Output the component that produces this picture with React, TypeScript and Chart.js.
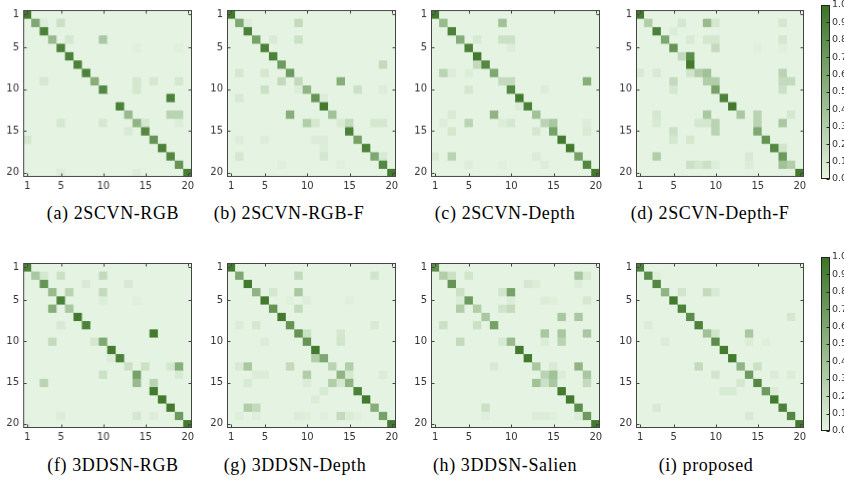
import React, { useEffect, useRef } from 'react';
import { Chart, registerables } from 'chart.js';
Chart.register(...registerables);

// ---------- data ----------
const CLASS_LABELS = ['1','2','3','4','5','6','7','8','9','10','11','12','13','14','15','16','17','18','19','20'];
const AXIS_TICKS = [1, 5, 10, 15, 20];
const COLORBAR_TICKS = [0, 0.1, 0.2, 0.3, 0.4, 0.5, 0.6, 0.7, 0.8, 0.9, 1.0];

// (a) 2SCVN-RGB
const DIAG_A = [0.95,0.6,0.9,0.45,0.9,0.9,0.9,0.9,0.55,0.85,0,0.9,0.45,0.5,0.85,0.75,0.9,0.85,0.75,0.92];
const OFF_A: [number, number, number][] = [[2,3,0.05],[2,5,0.15],[4,6,0.1],[4,10,0.35],[5,14,0.03],[5,19,0.03],[9,3,0.1],[9,14,0.1],[9,16,0.1],[9,19,0.1],[10,14,0.1],[11,18,0.9],[13,18,0.25],[13,19,0.25],[14,5,0.1],[14,10,0.1],[14,15,0.1],[14,19,0.05],[15,13,0.08],[16,1,0.1],[20,5,0.05],[20,14,0.05]];
// (b) 2SCVN-RGB-F
const DIAG_B = [0.95,0.6,0.9,0.65,0.9,0.9,0.7,0.7,0.2,0.5,0.75,0.95,0.4,0.08,0.9,0.65,0.9,0.6,0.85,0.95];
const OFF_B: [number, number, number][] = [[2,3,0.05],[2,9,0.2],[4,6,0.07],[4,9,0.15],[7,19,0.2],[8,2,0.1],[8,5,0.1],[9,7,0.2],[9,14,0.55],[10,5,0.15],[10,9,0.05],[10,16,0.15],[10,19,0.05],[11,2,0.08],[11,12,0.05],[13,8,0.55],[14,10,0.3],[14,11,0.1],[14,15,0.2],[14,18,0.1],[14,19,0.1],[16,2,0.05],[16,5,0.05],[16,11,0.06],[16,12,0.06],[17,12,0.05],[18,2,0.1],[18,12,0.1],[18,19,0.08],[19,7,0.03],[19,14,0.03]];
// (c) 2SCVN-Depth
const DIAG_C = [0.95,0.45,0.9,0.55,0.9,0.95,0.85,0.6,0.2,0.85,0.95,0.9,0.4,0.25,0.65,0.95,0.95,0.65,0.85,0.95];
const OFF_C: [number, number, number][] = [[2,9,0.4],[4,6,0.08],[4,9,0.15],[4,10,0.15],[5,10,0.05],[7,6,0.2],[8,2,0.25],[8,3,0.05],[8,5,0.05],[9,10,0.2],[9,19,0.55],[10,5,0.1],[10,14,0.05],[12,11,0.06],[13,3,0.08],[13,8,0.5],[14,2,0.05],[14,5,0.25],[14,9,0.05],[14,10,0.1],[14,15,0.35],[14,19,0.05],[15,3,0.1],[15,13,0.1],[15,19,0.08],[18,1,0.08],[18,3,0.25],[18,13,0.06],[19,5,0.05],[19,9,0.03],[19,14,0.05]];
// (d) 2SCVN-Depth-F
const DIAG_D = [0.95,0.3,0.9,0.6,0.75,0.2,0.95,0.3,0.3,0.65,0.9,0.95,0.35,0,0.6,0.75,0.85,0.7,0.3,0.95];
const OFF_D: [number, number, number][] = [[2,6,0.1],[2,9,0.45],[2,10,0.1],[2,18,0.1],[3,5,0.05],[4,7,0.08],[4,9,0.1],[4,10,0.1],[4,18,0.1],[5,10,0.2],[5,15,0.03],[5,18,0.03],[6,7,0.8],[8,1,0.08],[8,3,0.08],[8,7,0.12],[8,9,0.4],[8,18,0.25],[9,5,0.2],[9,10,0.3],[9,18,0.2],[9,19,0.2],[10,5,0.1],[10,18,0.15],[13,3,0.1],[13,9,0.35],[13,15,0.25],[13,19,0.1],[14,3,0.08],[14,8,0.1],[14,9,0.1],[14,10,0.25],[14,15,0.25],[14,18,0.35],[15,5,0.15],[15,10,0.25],[16,5,0.1],[16,7,0.1],[17,18,0.12],[18,3,0.3],[18,14,0.08],[19,7,0.15],[19,8,0.1],[19,9,0.15],[19,10,0.05],[19,14,0.06],[19,18,0.4]];
// (f) 3DDSN-RGB
const DIAG_F = [0.9,0.35,0.75,0.45,0.9,0.35,0.95,0.9,0,0.6,0.95,0.9,0.15,0.65,0,0.95,0.95,0.95,0.7,0.95];
const OFF_F: [number, number, number][] = [[2,3,0.1],[2,5,0.15],[2,10,0.2],[3,8,0.08],[3,13,0.08],[4,6,0.25],[4,10,0.2],[5,10,0.05],[5,14,0.03],[6,4,0.55],[8,5,0.08],[9,16,0.95],[10,4,0.2],[10,9,0.1],[12,11,0.06],[13,15,0.15],[13,18,0.1],[13,19,0.55],[14,10,0.15],[14,19,0.08],[15,3,0.25],[15,14,0.45],[15,16,0.25],[19,5,0.06],[19,14,0.1],[19,16,0.05],[20,1,0.03]];
// (g) 3DDSN-Depth
const DIAG_G = [0.95,0.6,0.95,0.5,0.95,0.75,0.95,0.75,0.75,0.75,0.95,0.6,0.25,0.5,0.5,0.9,0.95,0.55,0.65,0.95];
const OFF_G: [number, number, number][] = [[2,9,0.2],[2,18,0.12],[4,6,0.1],[4,9,0.35],[5,8,0.03],[5,10,0.05],[5,15,0.04],[6,9,0.2],[8,2,0.06],[8,4,0.1],[8,18,0.08],[9,10,0.15],[9,14,0.1],[10,5,0.06],[10,14,0.12],[12,11,0.3],[13,2,0.08],[13,3,0.35],[13,8,0.2],[13,15,0.3],[14,4,0.06],[14,5,0.06],[14,10,0.3],[14,15,0.1],[14,19,0.06],[15,3,0.08],[15,10,0.06],[15,13,0.3],[15,14,0.1],[16,12,0.08],[17,11,0.06],[18,3,0.3],[18,4,0.2],[19,2,0.04],[19,4,0.04],[19,9,0.06],[19,10,0.04],[19,12,0.04],[19,14,0.2],[19,15,0.06],[19,16,0.03]];
// (h) 3DDSN-Salien
const DIAG_H = [0.8,0.3,0.75,0.15,0.7,0.3,0.35,0.65,0,0.45,0.95,0.95,0.35,0.25,0.35,0.95,0.95,0.8,0.7,0.95];
const OFF_H: [number, number, number][] = [[2,3,0.15],[2,5,0.12],[2,18,0.35],[2,19,0.08],[3,12,0.1],[3,13,0.06],[3,18,0.05],[4,9,0.12],[4,10,0.65],[5,4,0.06],[5,10,0.06],[5,14,0.06],[5,15,0.04],[5,19,0.1],[6,4,0.3],[6,9,0.12],[6,10,0.2],[7,16,0.35],[7,18,0.35],[8,2,0.15],[8,6,0.15],[9,14,0.35],[9,16,0.35],[9,19,0.35],[10,4,0.2],[10,9,0.08],[10,14,0.06],[10,16,0.25],[13,8,0.08],[13,15,0.08],[13,18,0.5],[14,15,0.4],[14,16,0.06],[14,19,0.35],[15,13,0.4],[15,14,0.15],[15,19,0.2],[18,7,0.15],[19,7,0.04],[19,13,0.06],[19,14,0.06],[19,15,0.04],[19,18,0.06]];
// (i) proposed
const DIAG_I = [0.9,0.8,0.85,0.5,0.95,0.9,0.8,0.9,0.4,0.8,0.95,0.95,0.5,0.7,0.85,0.7,0.95,0.9,0.85,0.95];
const OFF_I: [number, number, number][] = [[2,3,0.04],[4,6,0.12],[4,9,0.2],[4,10,0.08],[7,19,0.1],[8,2,0.06],[9,10,0.12],[9,14,0.35],[10,4,0.06],[10,14,0.06],[10,16,0.04],[13,8,0.2],[13,15,0.15],[14,10,0.12],[14,17,0.06],[14,19,0.06],[15,13,0.1],[16,11,0.08],[16,12,0.08],[16,17,0.06],[18,3,0.08],[19,14,0.08]];

const CAPTIONS = ['(a) 2SCVN-RGB','(b) 2SCVN-RGB-F','(c) 2SCVN-Depth','(d) 2SCVN-Depth-F','(f) 3DDSN-RGB','(g) 3DDSN-Depth','(h) 3DDSN-Salien','(i) proposed'];

// ---------- styling ----------
const LOW = [229, 244, 226];
const HIGH = [58, 116, 37];
const colorFor = (v: number) => {
  const c = LOW.map((l, i) => Math.round(l + (HIGH[i] - l) * v));
  return `rgb(${c[0]},${c[1]},${c[2]})`;
};
const TICK_FONT = { family: 'DejaVu Sans', size: 10 };
const TEXT_COLOR = '#333';
const FRAME_COLOR = '#444';

function buildMatrix(diag: number[], off: [number, number, number][]) {
  const m = CLASS_LABELS.map((_, r) => CLASS_LABELS.map((__, c) => (r === c ? diag[r] : 0)));
  off.forEach(([r, c, v]) => { m[r - 1][c - 1] = v; });
  return m;
}

const PAD_L = 30, PAD_T = 8, PAD_R = 8, PAD_B = 20;

const framePlugin = {
  id: 'frame',
  beforeDatasetsDraw(chart: any) {
    const { ctx, chartArea: a } = chart;
    ctx.save();
    ctx.fillStyle = colorFor(0);
    ctx.fillRect(a.left, a.top, a.width, a.height);
    ctx.restore();
  },
  afterDraw(chart: any) {
    const { ctx, chartArea: a, scales } = chart;
    const x = scales.x, y = scales.y;
    ctx.save();
    ctx.strokeStyle = FRAME_COLOR;
    ctx.lineWidth = 1;
    const L = Math.round(a.left) + 0.5, T = Math.round(a.top) + 0.5;
    const R = Math.round(a.right) - 0.5, B = Math.round(a.bottom) - 0.5;
    ctx.strokeRect(L, T, R - L, B - T);
    ctx.beginPath();
    AXIS_TICKS.forEach((v) => {
      const px = Math.round(x.getPixelForValue(v - 1)) + 0.5;
      ctx.moveTo(px, B); ctx.lineTo(px, B - 3);
      ctx.moveTo(px, T); ctx.lineTo(px, T + 3);
      const py = Math.round(y.getPixelForValue(v)) + 0.5;
      ctx.moveTo(L, py); ctx.lineTo(L + 3, py);
      ctx.moveTo(R, py); ctx.lineTo(R - 3, py);
    });
    ctx.stroke();
    ctx.restore();
  },
};

type Box = { left: number; top: number; w: number; h: number };

function Matrix({ diag, off, box }: { diag: number[]; off: [number, number, number][]; box: Box }) {
  const ref = useRef<HTMLCanvasElement>(null);
  const W = box.w + PAD_L + PAD_R, H = box.h + PAD_T + PAD_B;
  useEffect(() => {
    const m = buildMatrix(diag, off);
    const chart = new Chart(ref.current!, {
      type: 'bar',
      data: {
        labels: CLASS_LABELS,
        datasets: m.map((row, r) => ({
          data: row.map(() => [r + 0.5, r + 1.5]),
          backgroundColor: row.map((v) => colorFor(v)),
          borderWidth: 0,
          grouped: false,
          categoryPercentage: 1,
          barPercentage: 1,
        })) as any,
      },
      options: {
        animation: false,
        responsive: false,
        maintainAspectRatio: false,
        layout: { padding: { top: PAD_T, right: PAD_R, left: 0, bottom: 0 } },
        plugins: { legend: { display: false }, tooltip: { enabled: false } },
        scales: {
          x: {
            type: 'category',
            grid: { display: false, drawTicks: false },
            border: { display: false },
            ticks: {
              autoSkip: false, maxRotation: 0, minRotation: 0, padding: 3,
              font: TICK_FONT, color: TEXT_COLOR,
              callback: (_v: any, i: number) => (AXIS_TICKS.includes(i + 1) ? CLASS_LABELS[i] : ''),
            },
            afterFit: (s: any) => { s.height = PAD_B; },
          },
          y: {
            type: 'linear', reverse: true, min: 0.5, max: 20.5,
            grid: { display: false, drawTicks: false },
            border: { display: false },
            afterBuildTicks: (s: any) => { s.ticks = AXIS_TICKS.map((v) => ({ value: v })); },
            ticks: { padding: 4, font: TICK_FONT, color: TEXT_COLOR, callback: (v: any) => String(v) },
            afterFit: (s: any) => { s.width = PAD_L; },
          },
        },
      } as any,
      plugins: [framePlugin],
    });
    return () => chart.destroy();
  }, []);
  return (
    <canvas ref={ref} width={W} height={H}
      style={{ position: 'absolute', left: box.left - PAD_L, top: box.top - PAD_T, width: W, height: H }} />
  );
}

function ColorBar({ left, top, bottom }: { left: number; top: number; bottom: number }) {
  const ref = useRef<HTMLCanvasElement>(null);
  const CB_W = 9, LABEL_W = 16, PADV = 8;
  const W = CB_W + LABEL_W, H = bottom - top + 2 * PADV;
  useEffect(() => {
    const chart = new Chart(ref.current!, {
      type: 'bar',
      data: {
        labels: ['cb'],
        datasets: [{
          data: [[0, 1]] as any,
          borderWidth: 0,
          categoryPercentage: 1,
          barPercentage: 1,
          backgroundColor: (c: any) => {
            const a = c.chart.chartArea;
            if (!a) return colorFor(0);
            const g = c.chart.ctx.createLinearGradient(0, a.bottom, 0, a.top);
            g.addColorStop(0, colorFor(0));
            g.addColorStop(1, colorFor(1));
            return g;
          },
        }],
      },
      options: {
        animation: false,
        responsive: false,
        maintainAspectRatio: false,
        layout: { padding: { top: PADV, bottom: PADV, left: 0, right: 0 } },
        plugins: { legend: { display: false }, tooltip: { enabled: false } },
        scales: {
          x: { display: false },
          y: {
            position: 'right', min: 0, max: 1,
            grid: { display: false, drawTicks: false },
            border: { display: false },
            afterBuildTicks: (s: any) => { s.ticks = COLORBAR_TICKS.map((v) => ({ value: v })); },
            ticks: { padding: 2, font: { family: 'DejaVu Sans', size: 9.5 }, color: TEXT_COLOR, callback: (v: any) => Number(v).toFixed(1) },
            afterFit: (s: any) => { s.width = LABEL_W; },
          },
        },
      } as any,
      plugins: [{
        id: 'cbframe',
        afterDraw(ch: any) {
          const { ctx, chartArea: a, scales } = ch;
          ctx.save();
          ctx.strokeStyle = '#222';
          ctx.lineWidth = 1;
          const L = Math.round(a.left) + 0.5, T = Math.round(a.top) + 0.5;
          const R = Math.round(a.right) - 0.5, B = Math.round(a.bottom) - 0.5;
          ctx.strokeRect(L, T, R - L, B - T);
          ctx.beginPath();
          COLORBAR_TICKS.forEach((v) => {
            const py = Math.round(scales.y.getPixelForValue(v)) + 0.5;
            ctx.moveTo(R, py); ctx.lineTo(R - 3, py);
          });
          ctx.stroke();
          ctx.restore();
        },
      }],
    });
    return () => chart.destroy();
  }, []);
  return (
    <canvas ref={ref} width={W} height={H}
      style={{ position: 'absolute', left, top: top - PADV, width: W, height: H }} />
  );
}

const ROW1 = { top: 8, h: 168.5 };
const ROW2 = { top: 260.5, h: 167.5 };
const COLS = [{ left: 23, w: 168.5 }, { left: 227, w: 169 }, { left: 431, w: 169 }, { left: 636, w: 168 }];

function Caption({ text, cx, cy }: { text: string; cx: number; cy: number }) {
  return (
    <div style={{
      position: 'absolute', left: cx - 120, top: cy - 12, width: 240, height: 24, lineHeight: '24px',
      textAlign: 'center', fontFamily: '"Liberation Serif", serif', fontSize: 18, letterSpacing: 0.6,
      color: '#000', whiteSpace: 'nowrap',
    }}>{text}</div>
  );
}

export default function App() {
  const matrices = [
    { diag: DIAG_A, off: OFF_A, col: 0, row: ROW1 },
    { diag: DIAG_B, off: OFF_B, col: 1, row: ROW1 },
    { diag: DIAG_C, off: OFF_C, col: 2, row: ROW1 },
    { diag: DIAG_D, off: OFF_D, col: 3, row: ROW1 },
    { diag: DIAG_F, off: OFF_F, col: 0, row: ROW2 },
    { diag: DIAG_G, off: OFF_G, col: 1, row: ROW2 },
    { diag: DIAG_H, off: OFF_H, col: 2, row: ROW2 },
    { diag: DIAG_I, off: OFF_I, col: 3, row: ROW2 },
  ];
  const captionPos = [
    { cx: 113, cy: 213 }, { cx: 289, cy: 213 }, { cx: 505, cy: 213 }, { cx: 710, cy: 213 },
    { cx: 113, cy: 465 }, { cx: 295, cy: 465 }, { cx: 505, cy: 465 }, { cx: 706, cy: 465 },
  ];
  return (
    <div style={{ position: 'absolute', left: 0, top: 0, width: 844, height: 481, overflow: 'hidden', background: '#fff' }}>
      {matrices.map((m, i) => (
        <Matrix key={i} diag={m.diag} off={m.off}
          box={{ left: COLS[m.col].left, top: m.row.top, w: COLS[m.col].w, h: m.row.h }} />
      ))}
      <ColorBar left={821} top={5} bottom={179} />
      <ColorBar left={821} top={257} bottom={431} />
      {CAPTIONS.map((t, i) => <Caption key={i} text={t} cx={captionPos[i].cx} cy={captionPos[i].cy} />)}
    </div>
  );
}
